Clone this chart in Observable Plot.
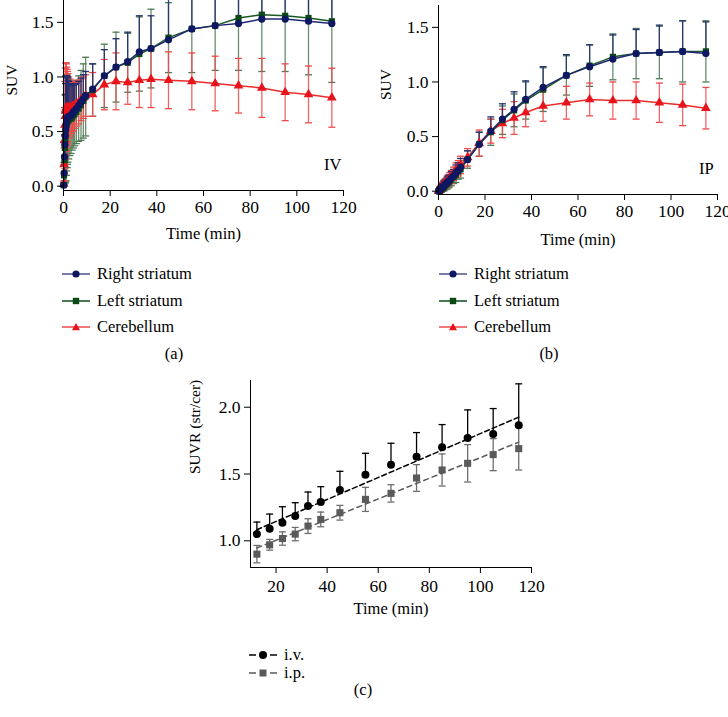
<!DOCTYPE html>
<html><head><meta charset="utf-8">
<script src="https://cdn.jsdelivr.net/npm/d3@7"></script>
<script src="https://cdn.jsdelivr.net/npm/@observablehq/plot@0.6"></script>
<style>
html,body{margin:0;padding:0;background:#fff;}
#root{position:relative;width:728px;height:717px;overflow:hidden;font-family:"Liberation Serif","DejaVu Serif",serif;color:#000;}
.panel{position:absolute;}
.panel svg text{font-family:"Liberation Serif","DejaVu Serif",serif;}
.leg{position:absolute;font-size:16.5px;display:flex;align-items:center;white-space:nowrap;height:18px;line-height:18px;}
.leg svg{margin-right:7px;flex:none;}
.cap{position:absolute;font-size:16.5px;transform:translate(-50%,-50%);white-space:nowrap;}
</style></head><body><div id="root"></div>
<script>
// ---------- data ----------
const times = [0.08,0.25,0.42,0.58,0.75,0.92,1.08,1.25,1.42,1.58,1.75,1.92,2.25,2.75,3.25,3.75,4.25,4.75,5.5,6.5,7.5,8.5,9.5,
  12.5,17.5,22.5,27.5,32.5,37.5,45,55,65,75,85,95,105,115];

// (a) IV
const ivRight = [0.01,0.12,0.27,0.38,0.46,0.52,0.56,0.59,0.61,0.62,0.63,0.63,0.64,0.64,0.65,0.66,0.68,0.69,0.71,0.74,0.77,0.80,0.83,
  0.89,1.01,1.09,1.14,1.23,1.26,1.34,1.44,1.47,1.49,1.53,1.53,1.51,1.49];
const ivRightSD = [0.01,0.10,0.20,0.30,0.38,0.42,0.45,0.42,0.40,0.38,0.36,0.34,0.32,0.30,0.28,0.26,0.25,0.24,0.23,0.22,0.22,0.22,0.22,
  0.23,0.24,0.26,0.27,0.33,0.30,0.40,0.45,0.45,0.48,0.50,0.50,0.52,0.52];
const ivLeft = [0.01,0.10,0.24,0.35,0.43,0.49,0.53,0.56,0.58,0.59,0.60,0.60,0.61,0.62,0.62,0.63,0.65,0.66,0.68,0.71,0.74,0.78,0.82,
  0.88,1.01,1.09,1.13,1.21,1.26,1.36,1.44,1.47,1.54,1.57,1.56,1.54,1.51];
const ivLeftSD = [0.01,0.10,0.22,0.32,0.40,0.45,0.48,0.46,0.44,0.42,0.40,0.38,0.36,0.34,0.32,0.30,0.30,0.29,0.29,0.30,0.32,0.34,0.36,
  0.24,0.29,0.32,0.27,0.34,0.36,0.32,0.40,0.41,0.48,0.52,0.51,0.52,0.56];
const ivCereb = [0.02,0.20,0.42,0.56,0.64,0.69,0.71,0.72,0.72,0.72,0.72,0.72,0.72,0.72,0.72,0.73,0.73,0.74,0.75,0.77,0.79,0.81,0.83,
  0.84,0.93,0.96,0.95,0.97,0.98,0.97,0.96,0.94,0.92,0.90,0.86,0.84,0.81];
const ivCerebSD = [0.02,0.15,0.30,0.40,0.44,0.44,0.42,0.40,0.37,0.35,0.33,0.31,0.28,0.26,0.24,0.23,0.22,0.21,0.20,0.20,0.19,0.19,0.19,
  0.20,0.23,0.26,0.20,0.25,0.26,0.26,0.26,0.25,0.25,0.27,0.26,0.26,0.27];

// (b) IP
const ipRight = [0.00,0.01,0.01,0.01,0.02,0.02,0.02,0.03,0.03,0.03,0.04,0.04,0.05,0.06,0.07,0.08,0.09,0.10,0.12,0.14,0.17,0.19,0.22,
  0.29,0.43,0.55,0.66,0.75,0.84,0.95,1.06,1.14,1.21,1.26,1.27,1.28,1.26];
const ipRightSD = [0.01,0.01,0.01,0.02,0.02,0.02,0.02,0.03,0.03,0.03,0.03,0.03,0.04,0.04,0.04,0.05,0.05,0.05,0.06,0.06,0.07,0.07,0.08,
  0.08,0.11,0.13,0.14,0.16,0.17,0.19,0.19,0.20,0.22,0.22,0.25,0.28,0.29];
const ipLeft = [0.00,0.00,0.01,0.01,0.01,0.02,0.02,0.02,0.03,0.03,0.03,0.04,0.04,0.05,0.06,0.07,0.08,0.09,0.11,0.13,0.15,0.18,0.20,
  0.29,0.43,0.54,0.65,0.74,0.83,0.93,1.06,1.15,1.23,1.26,1.27,1.28,1.28];
const ipLeftSD = [0.01,0.01,0.01,0.02,0.02,0.02,0.02,0.03,0.03,0.03,0.03,0.03,0.04,0.04,0.04,0.05,0.05,0.05,0.06,0.06,0.07,0.07,0.08,
  0.08,0.11,0.12,0.13,0.15,0.17,0.20,0.18,0.19,0.21,0.23,0.24,0.28,0.28];
const ipCereb = [0.00,0.01,0.01,0.02,0.02,0.03,0.03,0.03,0.04,0.04,0.05,0.05,0.06,0.07,0.08,0.09,0.10,0.12,0.13,0.16,0.19,0.21,0.24,
  0.31,0.44,0.55,0.62,0.67,0.72,0.78,0.81,0.84,0.83,0.83,0.81,0.79,0.76];
const ipCerebSD = [0.01,0.01,0.01,0.02,0.02,0.02,0.02,0.03,0.03,0.03,0.03,0.03,0.04,0.04,0.04,0.05,0.05,0.05,0.06,0.06,0.07,0.07,0.08,
  0.08,0.12,0.11,0.13,0.15,0.13,0.14,0.15,0.15,0.17,0.17,0.18,0.19,0.19];

// (c) SUVR
const timesC = [12.5,17.5,22.5,27.5,32.5,37.5,45,55,65,75,85,95,105,115];
const suvrIV = [1.05,1.09,1.135,1.185,1.26,1.29,1.38,1.495,1.57,1.63,1.70,1.77,1.80,1.865];
const suvrIVSD = [0.09,0.11,0.12,0.10,0.105,0.115,0.14,0.16,0.16,0.18,0.17,0.21,0.19,0.31];
const suvrIP = [0.90,0.97,1.017,1.05,1.11,1.16,1.21,1.31,1.355,1.47,1.53,1.58,1.645,1.69];
const suvrIPSD = [0.065,0.04,0.05,0.05,0.055,0.055,0.055,0.09,0.065,0.10,0.12,0.14,0.12,0.16];

const xTicksAB = [0,20,40,60,80,100,120];
const yTicksAB = [0,0.5,1.0,1.5];
const xTicksC = [20,40,60,80,100,120];
const yTicksC = [1.0,1.5,2.0];
const seriesNames = ["Right striatum","Left striatum","Cerebellum"];
const routeNames = ["i.v.","i.p."];

// ---------- helpers ----------
const FONT = "'Liberation Serif', 'DejaVu Serif', serif";
const TICK_FS = 17.5, LABEL_FS = 16.5, YLAB_FS = 15.5;
const rows = (t, v, sd) => t.map((x, i) => ({t: x, v: v[i], sd: sd[i]}));
const capSym = {draw(ctx, size) { const w = Math.sqrt(size / Math.PI); ctx.moveTo(-w, 0); ctx.lineTo(w, 0); }};

const C = {
  navy: "#0f1763", navyLine: "#1f2775", navyErr: "#24306f",
  green: "#0b4a17", greenLine: "#1a5826", greenErr: "#4d7a56",
  red: "#e8141c", redLine: "#ec2b2b", redErr: "#ef4a4a",
  black: "#000", grey: "#5a5a5a", greyErr: "#6e6e6e"
};

function errMarks(data, color, dir, opacity = 1) {
  const lo = dir === "up" ? (d => d.v) : (d => d.v - d.sd);
  const m = [
    Plot.ruleX(data, {x: "t", y1: lo, y2: d => d.v + d.sd, stroke: color, strokeWidth: 1.3, strokeOpacity: opacity}),
    Plot.dot(data, {x: "t", y: d => d.v + d.sd, symbol: capSym, r: 3.5, stroke: color, strokeWidth: 1.3})
  ];
  if (dir === "both") m.push(Plot.dot(data, {x: "t", y: d => d.v - d.sd, symbol: capSym, r: 3.5, stroke: color, strokeWidth: 1.3}));
  return m;
}

function axes(xt, yt, xmin, ymin, gap, xpad) {
  return [
    Plot.ruleX([xmin], {stroke: "#000", strokeWidth: 1}),
    Plot.ruleY([ymin], {stroke: "#000", strokeWidth: 1, dy: gap}),
    Plot.axisX({ticks: xt, tickSize: 6, tickPadding: xpad, label: null, fontSize: TICK_FS, fontFamily: FONT}),
    Plot.axisY({ticks: yt, tickFormat: d3.format(".1f"), tickSize: 6, tickPadding: 4, label: null, fontSize: TICK_FS, fontFamily: FONT})
  ];
}

function suvPanel(cfg) {
  const R = rows(times, cfg.right, cfg.rightSD);
  const L = rows(times, cfg.left, cfg.leftSD);
  const B = rows(times, cfg.cer, cfg.cerSD);
  return Plot.plot({
    width: 364, height: 250,
    marginLeft: cfg.ml, marginRight: cfg.mr, marginTop: cfg.mt, marginBottom: cfg.mb,
    style: {fontFamily: FONT, fontSize: "16px", background: "transparent", color: "#000", overflow: "hidden"},
    x: {domain: [0, 120]},
    y: {domain: [0, 1.7], insetBottom: cfg.inset},
    marks: [
      ...errMarks(L, C.greenErr, "both", 0.85),
      ...errMarks(B, C.redErr, "both", 0.85),
      ...errMarks(R, C.navyErr, "up", 0.9),
      Plot.line(B, {x: "t", y: "v", stroke: C.redLine, strokeWidth: 1.5}),
      Plot.line(L, {x: "t", y: "v", stroke: C.greenLine, strokeWidth: 1.5}),
      Plot.line(R, {x: "t", y: "v", stroke: C.navyLine, strokeWidth: 1.5}),
      Plot.dot(B, {x: "t", y: "v", symbol: "triangle", r: 3.6, fill: C.red}),
      Plot.dot(L, {x: "t", y: "v", symbol: "square", r: 3.5, fill: C.green}),
      Plot.dot(R, {x: "t", y: "v", symbol: "circle", r: 3.6, fill: C.navy}),
      ...axes(xTicksAB, yTicksAB, 0, 0, cfg.inset, 4),
      Plot.text(["SUV"], {text: d => d, frameAnchor: "left", dx: cfg.ydx, rotate: -90, fontSize: YLAB_FS, fontFamily: FONT, fill: "#000"}),
      Plot.text(["Time (min)"], {text: d => d, frameAnchor: "bottom", dy: cfg.xdy, fontSize: LABEL_FS, fontFamily: FONT, fill: "#000"}),
      Plot.text([cfg.tag], {text: d => d.label, x: d => d.t, y: d => d.v, fontSize: LABEL_FS, fontFamily: FONT, fill: "#000"})
    ]
  });
}

const root = document.getElementById("root");
function place(el, left, top) {
  const d = document.createElement("div");
  d.className = "panel"; d.style.left = left + "px"; d.style.top = top + "px";
  d.appendChild(el); root.appendChild(d);
}

place(suvPanel({right: ivRight, rightSD: ivRightSD, left: ivLeft, leftSD: ivLeftSD, cer: ivCereb, cerSD: ivCerebSD,
  ml: 63, mr: 21, mt: 0, mb: 60, inset: 4.3, ydx: -51, xdy: 48, tag: {t: 115.4, v: 0.2, label: "IV"}}), 0, 0);
place(suvPanel({right: ipRight, rightSD: ipRightSD, left: ipLeft, leftSD: ipLeftSD, cer: ipCereb, cerSD: ipCerebSD,
  ml: 74, mr: 11, mt: 5, mb: 56, inset: 3.3, ydx: -52, xdy: 50, tag: {t: 115.2, v: 0.21, label: "IP"}}), 364, 0);

// panel (c)
const IV = rows(timesC, suvrIV, suvrIVSD);
const IP = rows(timesC, suvrIP, suvrIPSD);
const plotC = Plot.plot({
  width: 728, height: 280,
  marginLeft: 250, marginRight: 197, marginTop: 20, marginBottom: 73,
  style: {fontFamily: FONT, fontSize: "16px", background: "transparent", color: "#000", overflow: "hidden"},
  x: {domain: [10, 120]},
  y: {domain: [0.8, 2.2]},
  marks: [
    ...errMarks(IP, C.greyErr, "both"),
    ...errMarks(IV, C.black, "up"),
    Plot.linearRegressionY(IP, {x: "t", y: "v", ci: 0, stroke: C.grey, strokeWidth: 1.5, strokeDasharray: "5,4"}),
    Plot.linearRegressionY(IV, {x: "t", y: "v", ci: 0, stroke: C.black, strokeWidth: 1.5, strokeDasharray: "5,3"}),
    Plot.dot(IP, {x: "t", y: "v", symbol: "square", r: 4, fill: C.grey}),
    Plot.dot(IV, {x: "t", y: "v", symbol: "circle", r: 4, fill: C.black}),
    ...axes(xTicksC, yTicksC, 10, 0.8, 0, 6),
    Plot.text(["SUVR (str/cer)"], {text: d => d, frameAnchor: "left", dx: -55, rotate: -90, fontSize: YLAB_FS, fontFamily: FONT, fill: "#000"}),
    Plot.text(["Time (min)"], {text: d => d, frameAnchor: "bottom", dy: 46, fontSize: LABEL_FS, fontFamily: FONT, fill: "#000"})
  ]
});
place(plotC, 0, 360);

// ---------- legends ----------
function legendRow(left, cy, svg, label) {
  const d = document.createElement("div");
  d.className = "leg"; d.style.left = left + "px"; d.style.top = (cy - 9) + "px";
  d.innerHTML = svg + "<span>" + label + "</span>";
  root.appendChild(d);
}
const symSVG = [
  `<svg width="28" height="12"><line x1="0" x2="28" y1="6" y2="6" stroke="${C.navyLine}" stroke-opacity="0.75" stroke-width="1.6"/><circle cx="14" cy="6" r="3.6" fill="${C.navy}"/></svg>`,
  `<svg width="28" height="12"><line x1="0" x2="28" y1="6" y2="6" stroke="${C.greenLine}" stroke-width="1.6"/><rect x="10.8" y="2.8" width="6.4" height="6.4" fill="${C.green}"/></svg>`,
  `<svg width="28" height="12"><line x1="0" x2="28" y1="6" y2="6" stroke="${C.redLine}" stroke-opacity="0.8" stroke-width="1.6"/><polygon points="14,2 18,9.2 10,9.2" fill="${C.red}"/></svg>`
];
const rowY = [274, 301, 327];
seriesNames.forEach((n, i) => { legendRow(62, rowY[i], symSVG[i], n); legendRow(439, rowY[i], symSVG[i], n); });

const routeSVG = [
  `<svg width="28" height="12"><line x1="0" x2="7" y1="6" y2="6" stroke="#000" stroke-width="1.5"/><line x1="21" x2="28" y1="6" y2="6" stroke="#000" stroke-width="1.5"/><circle cx="14" cy="6" r="4" fill="#000"/></svg>`,
  `<svg width="28" height="12"><line x1="0" x2="7" y1="6" y2="6" stroke="${C.grey}" stroke-width="1.5"/><line x1="21" x2="28" y1="6" y2="6" stroke="${C.grey}" stroke-width="1.5"/><rect x="10.5" y="2.5" width="7" height="7" fill="${C.grey}"/></svg>`
];
routeNames.forEach((n, i) => legendRow(249, [655, 673][i], routeSVG[i], n));

function caption(text, x, y) {
  const d = document.createElement("div");
  d.className = "cap"; d.style.left = x + "px"; d.style.top = y + "px"; d.textContent = text;
  root.appendChild(d);
}
caption("(a)", 174, 354);
caption("(b)", 549, 354);
caption("(c)", 363, 690);
</script></body></html>
